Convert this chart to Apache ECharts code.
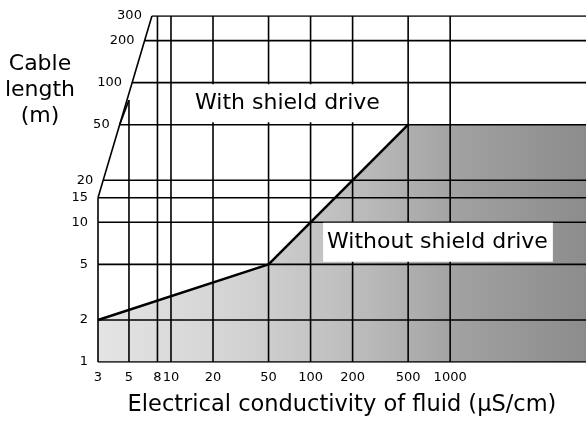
<!DOCTYPE html>
<html>
<head>
<meta charset="utf-8">
<script src="https://cdn.jsdelivr.net/npm/echarts@6/dist/echarts.min.js"></script>
<style>html,body{margin:0;padding:0;background:#fff;}#c{width:588px;height:429px;}</style>
</head>
<body>
<div id="c"></div>
<script>
// ---- data ----
const X_MIN = 3, X_MAX = 9400;
const Y_MIN = 1, Y_MAX = 300;
const xTicks = [3, 5, 8, 10, 20, 50, 100, 200, 500, 1000];
const xTickTops = [15, 75, 300, 300, 300, 300, 300, 300, 300, 300];
const yTicks = [1, 2, 5, 10, 15, 20, 50, 100, 200, 300];
const leftEdge = [[3, 15], [7.3, 300]];
const boundary = [[3, 2], [50, 5], [500, 50]];
const shadeEdge = [[3, 2], [50, 5], [500, 50], [X_MAX, 50]];
const regionLabels = ['With shield drive', 'Without shield drive'];
const regionAnchors = [[68.3, 71.1], [818, 7.19]];
const xTitle = 'Electrical conductivity of fluid (\u00b5S/cm)';
const yTitle = 'Cable\nlength\n(m)';

const FONT = 'DejaVu Sans';
const L10 = Math.log10;
function leftX(y) {
  if (y <= leftEdge[0][1]) return leftEdge[0][0];
  const t = L10(y / leftEdge[0][1]) / L10(leftEdge[1][1] / leftEdge[0][1]);
  return Math.pow(10, L10(leftEdge[0][0]) + t * L10(leftEdge[1][0] / leftEdge[0][0]));
}

const segs = [];
xTicks.forEach((x, i) => segs.push({ coords: [[x, Y_MIN], [x, xTickTops[i]]] }));
yTicks.forEach(y => segs.push({ coords: [[leftX(y), y], [X_MAX, y]] }));
segs.push({ coords: leftEdge });
segs.push({ coords: [[leftX(50), 50], [5, 75]] });

const hiddenSymbol = { symbolSize: 0, itemStyle: { color: '#000', opacity: 1 } };

const chart = echarts.init(document.getElementById('c'), null, { renderer: 'canvas' });
chart.setOption({
  animation: false,
  backgroundColor: '#fff',
  grid: { left: 98, right: 2, top: 16, bottom: 67 },
  xAxis: {
    type: 'log', logBase: 10, min: X_MIN, max: X_MAX,
    axisLine: { show: false }, axisTick: { show: false }, axisLabel: { show: false }, splitLine: { show: false },
    name: xTitle, nameLocation: 'middle', nameGap: 32,
    nameTextStyle: { fontSize: 22.5, fontFamily: FONT, color: '#000' }
  },
  yAxis: {
    type: 'log', logBase: 10, min: Y_MIN, max: Y_MAX,
    axisLine: { show: false }, axisTick: { show: false }, axisLabel: { show: false }, splitLine: { show: false }
  },
  graphic: [{
    type: 'text', x: 40, y: 90, z: 10,
    style: { text: yTitle, align: 'center', verticalAlign: 'middle', fontSize: 22, lineHeight: 26, fontFamily: FONT, fill: '#000' }
  }],
  series: [
    {
      type: 'line', data: shadeEdge, symbol: 'none', z: 1, silent: true,
      lineStyle: { width: 0 },
      areaStyle: {
        origin: 'start', opacity: 1,
        color: new echarts.graphic.LinearGradient(0, 0, 1, 0, [
          { offset: 0, color: '#e4e4e4' },
          { offset: 0.3, color: '#d2d2d2' },
          { offset: 0.55, color: '#bababa' },
          { offset: 0.75, color: '#a0a0a0' },
          { offset: 1, color: '#8c8c8c' }
        ])
      }
    },
    {
      type: 'lines', coordinateSystem: 'cartesian2d', polyline: true, z: 2, silent: true,
      lineStyle: { color: '#000', width: 1.6, opacity: 1 },
      data: segs
    },
    {
      type: 'line', data: boundary, symbol: 'none', z: 3, silent: true,
      lineStyle: { color: '#000', width: 2.5 }
    },
    Object.assign({
      type: 'scatter', z: 5, silent: true,
      data: xTicks.map(x => [x, Y_MIN]),
      label: { show: true, position: 'bottom', distance: 9, formatter: p => String(p.value[0]),
               fontSize: 13, fontFamily: FONT, color: '#000' }
    }, hiddenSymbol),
    Object.assign({
      type: 'scatter', z: 5, silent: true,
      data: yTicks.map(y => [leftX(y), y]),
      label: { show: true, position: 'left', distance: 10, formatter: p => String(p.value[1]),
               fontSize: 13, fontFamily: FONT, color: '#000' }
    }, hiddenSymbol),
    Object.assign({
      type: 'scatter', z: 6, silent: true,
      data: [
        { value: regionAnchors[0], label: { formatter: regionLabels[0], padding: [10, 22, 6, 22] } },
        { value: regionAnchors[1], label: { formatter: regionLabels[1], padding: [12, 5, 5, 4] } }
      ],
      label: { show: true, position: 'inside', fontSize: 22, lineHeight: 22, fontFamily: FONT,
               color: '#000', backgroundColor: '#fff' }
    }, hiddenSymbol)
  ]
});
</script>
</body>
</html>
